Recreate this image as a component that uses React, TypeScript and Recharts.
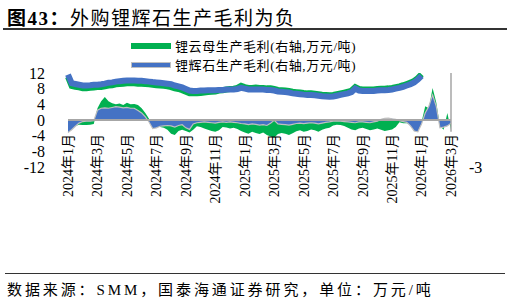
import React from "react";
import { ComposedChart, Area, Line, XAxis, YAxis, ReferenceLine } from "recharts";

// weekly samples (4 per month) from 2024-01 to 2026-03
const weeks: string[] = [];
for (let m = 0; m <= 26; m++) {
  const year = 2024 + Math.floor(m / 12);
  const month = (m % 12) + 1;
  const n = m === 26 ? 1 : 4;
  for (let k = 0; k < n; k++) weeks.push(`${year}-${month}-${k}`);
}

const tickLabels = [
  "2024年1月", "2024年3月", "2024年5月", "2024年7月", "2024年9月", "2024年11月",
  "2025年1月", "2025年3月", "2025年5月", "2025年7月", "2025年9月", "2025年11月",
  "2026年1月", "2026年3月",
];

// 锂云母生产毛利 (area, left scale)
const lepidolite = [
  -2.8, -2.0, -1.5, -1.2, -1.3, -1.3, -1.2, -1.0, 3.0, 4.8,
  5.9, 4.8, 4.3, 4.0, 4.2, 3.8, 4.4, 4.0, 4.1, 3.8,
  3.0, 1.8, 0.3, -2.0, -1.8, -1.8, -2.0, -2.5, -3.5, -3.8,
  -2.8, -2.5, -2.8, -3.2, -2.5, -1.6, -1.8, -2.2, -2.5, -2.8,
  -3.0, -2.6, -1.8, -1.9, -2.2, -2.0, -2.3, -2.8, -3.2, -3.5,
  -3.0, -3.3, -3.6, -3.2, -3.8, -4.2, -4.5, -3.6, -3.3, -3.5,
  -3.8, -3.4, -2.9, -2.6, -3.0, -2.8, -2.4, -2.6, -3.0, -2.5,
  -2.2, -2.0, -1.4, -1.2, -1.3, -1.5, -2.0, -2.4, -2.6, -2.2,
  -2.0, -2.3, -2.6, -2.4, -2.2, -2.5, -2.8, -2.6, -2.4, -1.8,
  -0.6, -0.8, -0.8, -1.2, -2.0, -1.2, -0.5, 3.5, 3.0, 8.2,
  4.5, -1.5, -2.5, 1.8, -2.5,
];

// 锂辉石生产毛利 (area, left scale)
const spodumene = [
  -3.2, -2.5, -1.6, -0.8, -0.4, -0.3, -0.3, -0.2, 2.5, 3.0,
  3.1, 3.0, 3.2, 3.4, 3.3, 3.1, 3.2, 3.0, 3.0, 2.4,
  1.8, 0.8, -0.5, -2.2, -2.0, -1.6, -1.5, -1.4, -1.5, -1.8,
  -1.4, -1.2, -2.0, -2.4, -1.0, -0.7, -0.6, -0.5, -0.6, -0.7,
  -0.8, -0.6, -0.5, -0.6, -0.5, -0.6, -0.7, -0.9, -1.0, -1.2,
  -1.0, -1.1, -1.3, -1.2, -1.4, -0.8, -0.1, -1.0, -1.1, -1.2,
  -1.3, -1.1, -0.9, -0.8, -0.9, -0.8, -0.7, -0.8, -1.0, -0.8,
  -0.6, -0.5, -0.3, -0.2, -0.3, -0.4, -0.5, -0.6, -0.7, -0.5,
  -0.5, -0.6, -0.7, -0.5, -0.3, 0.2, 0.4, 0.5, 0.3, 0.2,
  -0.2, -0.4, -0.6, -1.5, -2.8, -3.0, -1.0, 1.8, 3.5, 6.4,
  3.5, -2.0, -1.8, -1.5, -0.8,
];

// same series on the right axis (thick lines in the upper band)
const spodumeneRight = [
  2.90, 2.35, 2.30, 2.25, 2.20, 2.20, 2.22, 2.25, 2.25, 2.28,
  2.32, 2.38, 2.40, 2.45, 2.48, 2.50, 2.52, 2.52, 2.52, 2.50,
  2.50, 2.48, 2.45, 2.42, 2.40, 2.38, 2.35, 2.32, 2.28, 2.20,
  2.15, 2.08, 1.98, 1.88, 1.85, 1.85, 1.88, 1.88, 1.90, 1.90,
  1.90, 1.92, 1.92, 1.95, 1.95, 1.95, 1.98, 2.05, 2.00, 1.95,
  1.95, 1.95, 1.95, 1.95, 1.92, 1.92, 1.88, 1.82, 1.80, 1.78,
  1.75, 1.70, 1.68, 1.65, 1.62, 1.60, 1.60, 1.58, 1.55, 1.52,
  1.50, 1.48, 1.50, 1.55, 1.60, 1.65, 1.70, 1.78, 2.00, 1.88,
  1.85, 1.85, 1.85, 1.85, 1.88, 1.90, 1.90, 1.92, 1.95, 2.00,
  2.05, 2.12, 2.20, 2.28, 2.40, 2.58, 2.82, null, null, null,
  null, null, null, null, null,
];

const lepidoliteRight = [
  2.75, 2.18, 2.12, 2.08, 2.02, 2.02, 2.05, 2.08, 2.10, 2.10,
  2.15, 2.20, 2.22, 2.28, 2.30, 2.32, 2.35, 2.35, 2.35, 2.32,
  2.32, 2.30, 2.28, 2.25, 2.22, 2.20, 2.18, 2.15, 2.10, 2.02,
  1.98, 1.90, 1.80, 1.70, 1.70, 1.70, 1.72, 1.75, 1.78, 1.80,
  1.82, 1.88, 1.90, 1.95, 1.98, 2.00, 2.05, 2.18, 2.10, 2.05,
  2.05, 2.08, 2.05, 2.05, 2.02, 2.02, 1.98, 1.92, 1.90, 1.88,
  1.85, 1.80, 1.78, 1.75, 1.72, 1.70, 1.70, 1.68, 1.65, 1.62,
  1.60, 1.58, 1.60, 1.65, 1.70, 1.75, 1.80, 1.88, 2.10, 1.98,
  1.95, 1.95, 1.95, 1.95, 1.98, 2.00, 2.00, 2.02, 2.05, 2.10,
  2.15, 2.22, 2.30, 2.38, 2.50, 2.68, 2.92, null, null, null,
  null, null, null, null, null,
];

const leftTicks = [-12, -8, -4, 0, 4, 8, 12];
const rightTicks = [-3];

const data = weeks.map((w, i) => ({
  week: w,
  lepidolite: lepidolite[i],
  spodumene: spodumene[i],
  lepidoliteRight: lepidoliteRight[i],
  spodumeneRight: spodumeneRight[i],
}));

const labelOf: Record<string, string> = {};
weeks.forEach((w, i) => {
  if (i % 8 === 0) labelOf[w] = tickLabels[i / 8];
});

const SERIF = '"Liberation Serif", "Times New Roman", "Noto Sans CJK SC", serif';
const GREEN = "#00B050";
const BLUE = "#4472C4";
const GRAY = "#A6A6A6";

const PLOT_TOP = 73;
const PLOT_H = 94;

const XTick = (props: any) => {
  const { x, payload } = props;
  const ty = PLOT_TOP + PLOT_H / 2 + 14;
  return (
    <text
      x={x}
      y={ty}
      transform={`rotate(-90 ${x} ${ty})`}
      textAnchor="end"
      dy="0.35em"
      fontFamily={SERIF}
      fontSize={14}
      fill="#000"
    >
      {labelOf[payload.value] || ""}
    </text>
  );
};

const LegendBox = () => (
  <div style={{ position: "absolute", left: 131, top: 36, fontFamily: SERIF, fontSize: 13, letterSpacing: 0.6, color: "#000", whiteSpace: "nowrap" }}>
    <div style={{ display: "flex", alignItems: "center", height: 19 }}>
      <span style={{ display: "inline-block", width: 40, height: 6, background: GREEN, marginRight: 4 }} />
      <span>锂云母生产毛利(右轴,万元/吨)</span>
    </div>
    <div style={{ display: "flex", alignItems: "center", height: 19 }}>
      <span style={{ display: "inline-block", width: 38, height: 4, background: BLUE, border: "1px solid #C0C0C0", marginRight: 4 }} />
      <span>锂辉石生产毛利(右轴,万元/吨)</span>
    </div>
  </div>
);

export default function App() {
  const last = weeks[weeks.length - 1];
  return (
    <div style={{ position: "absolute", left: 0, top: 0, width: 510, height: 301, background: "#fff", fontFamily: SERIF }}>
      <div style={{ position: "absolute", left: 7, top: 3, fontSize: 19, letterSpacing: 1.5, whiteSpace: "nowrap", color: "#000" }}>
        <b>图43：</b>外购锂辉石生产毛利为负
      </div>
      <div style={{ position: "absolute", left: 3, top: 28, width: 504, height: 1.5, background: "#333" }} />

      <div style={{ position: "absolute", left: 0, top: 0 }}>
        <ComposedChart
          width={510}
          height={301}
          data={data}
          margin={{ top: PLOT_TOP, right: 19, bottom: 94, left: 0 }}
        >
          <XAxis
            dataKey="week"
            scale="point"
            padding={{ left: 0, right: 0 }}
            interval={7}
            height={40}
            axisLine={false}
            tickLine={false}
            tickSize={0}
            tickMargin={0}
            tick={<XTick />}
          />
          <YAxis
            yAxisId="left"
            domain={[-12, 12]}
            ticks={leftTicks}
            interval={0}
            allowDataOverflow
            width={68}
            axisLine={false}
            tickLine={false}
            tickMargin={17}
            tick={{ fontFamily: SERIF, fontSize: 16, fill: "#000" }}
          />
          <YAxis
            yAxisId="right"
            orientation="right"
            domain={[-3, 3]}
            ticks={rightTicks}
            interval={0}
            allowDataOverflow
            width={40}
            axisLine={false}
            tickLine={false}
            tickMargin={12}
            tick={{ fontFamily: SERIF, fontSize: 16, fill: "#000" }}
          />
          <Area
            yAxisId="left"
            dataKey="lepidolite"
            type="linear"
            baseValue={0}
            fill={GREEN}
            fillOpacity={1}
            stroke="none"
            isAnimationActive={false}
          />
          <Area
            yAxisId="left"
            dataKey="spodumene"
            type="linear"
            baseValue={0}
            fill={BLUE}
            fillOpacity={1}
            stroke="#BFBFBF"
            strokeWidth={1.2}
            isAnimationActive={false}
          />
          <Line
            yAxisId="right"
            dataKey="lepidoliteRight"
            type="linear"
            stroke={GREEN}
            strokeWidth={6}
            dot={false}
            isAnimationActive={false}
          />
          <Line
            yAxisId="right"
            dataKey="spodumeneRight"
            type="linear"
            stroke={BLUE}
            strokeWidth={6}
            dot={false}
            isAnimationActive={false}
          />
          <ReferenceLine yAxisId="left" y={0} stroke={GRAY} strokeWidth={2} />
          <ReferenceLine
            yAxisId="left"
            segment={[{ x: last, y: 12 }, { x: last, y: -3 }]}
            stroke={GRAY}
            strokeWidth={1.5}
          />
        </ComposedChart>
      </div>
      <LegendBox />

      <div style={{ position: "absolute", left: 5, top: 273, width: 500, height: 1.2, background: "#333" }} />
      <div style={{ position: "absolute", left: 7, top: 278, fontSize: 15, letterSpacing: 2.9, whiteSpace: "nowrap", color: "#000" }}>
        数据来源：SMM，国泰海通证券研究，单位：万元/吨
      </div>
    </div>
  );
}
